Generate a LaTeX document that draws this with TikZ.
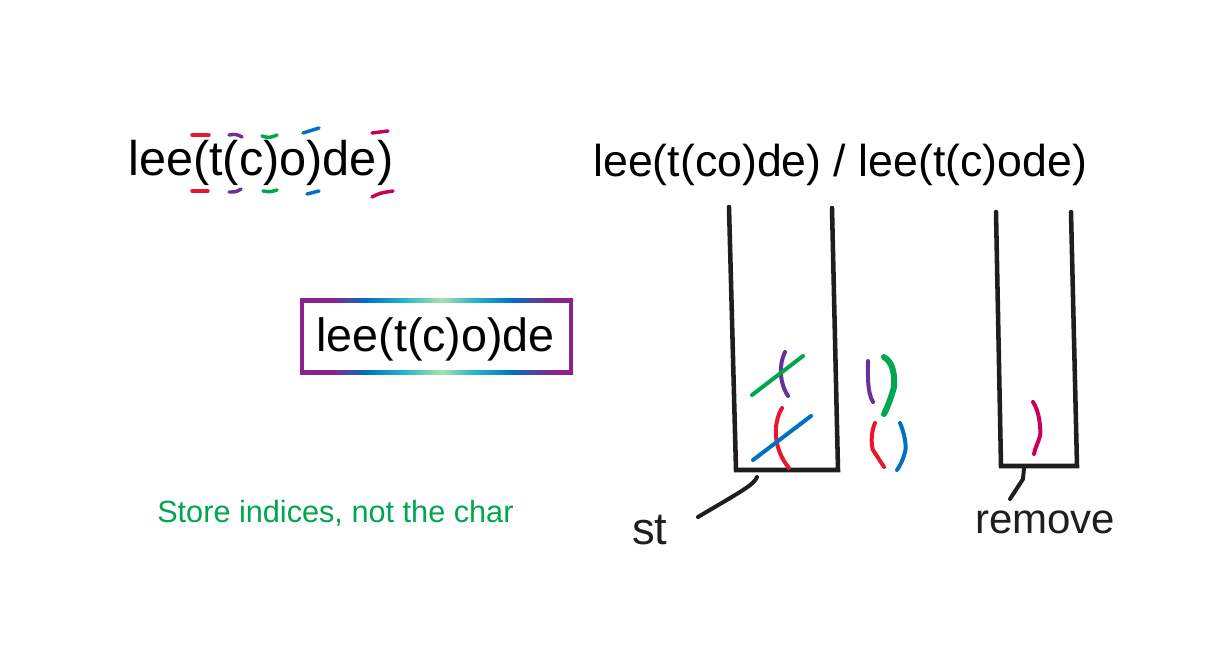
\documentclass[tikz,border=0pt]{standalone}
\usepackage{fontspec}
\setmainfont{Liberation Sans}
\definecolor{cred}{RGB}{232,22,48}
\definecolor{cpur}{RGB}{104,48,152}
\definecolor{cgrn}{RGB}{0,166,80}
\definecolor{cblu}{RGB}{0,112,196}
\definecolor{cmag}{RGB}{200,0,90}
\definecolor{cink}{RGB}{30,30,30}
\definecolor{cbox}{RGB}{140,35,140}
\definecolor{ccya}{RGB}{40,180,200}
\definecolor{clgr}{RGB}{170,225,170}
\definecolor{ctxt}{RGB}{0,166,80}
\pgfdeclarehorizontalshading{rainbow}{100bp}{color(0bp)=(cbox); color(25bp)=(cbox); color(31bp)=(cbox); color(37bp)=(cblu); color(44bp)=(ccya); color(51bp)=(clgr); color(57bp)=(ccya); color(64bp)=(cblu); color(71bp)=(cbox); color(100bp)=(cbox)}
\tikzset{
  txt/.style={inner sep=0pt, anchor=base west, text=black},
  dashmark/.style={line width=2.6pt, line cap=round},
  pen/.style={line width=3pt, line cap=round, line join=round},
  wall/.style={line width=3.4pt, draw=cink, line cap=round, line join=miter},
  hand/.style={line width=3pt, draw=cink, line cap=round, line join=round},
}
\begin{document}
\begin{tikzpicture}[x=0.75pt,y=-0.75pt]
\useasboundingbox[fill=white] (0,0) rectangle (1218,650);

% left string with marks
\node[txt, font=\fontsize{36.5}{40}\selectfont] (str) at (128,175) {lee(t(c)o)de)};
\draw[dashmark, cred] (192,135) -- (209,135);
\draw[dashmark, cred] (192,191) -- (208,191);
\draw[dashmark, cpur] (229,135) .. controls (236,134) .. (242,137);
\draw[dashmark, cpur] (229,192) .. controls (236,192) .. (241,189);
\draw[dashmark, cgrn] (262,136) .. controls (269,138) .. (277,135);
\draw[dashmark, cgrn] (263,191) .. controls (270,192) .. (277,190);
\draw[dashmark, cblu] (303,133) -- (319,128);
\draw[dashmark, cblu] (307,194) -- (319,191);
\draw[dashmark, cmag] (372,133) -- (388,131);
\draw[dashmark, cmag] (372,197) .. controls (380,193) .. (393,191);

% rainbow box
\shade[shading=rainbow] (300,298) rectangle (573,302);
\shade[shading=rainbow] (300,370) rectangle (573,374);
\fill[cbox] (300,298) rectangle (304,374);
\fill[cbox] (569,298) rectangle (573,374);
\node[txt, font=\fontsize{35}{40}\selectfont] (box) at (316,351) {lee(t(c)o)de};

% green note
\node[txt, font=\fontsize{23}{28}\selectfont, text=ctxt] (note) at (157,522) {Store indices, not the char};

% title
\node[txt, font=\fontsize{33.5}{38}\selectfont] (title) at (593,176) {lee(t(co)de) / lee(t(c)ode)};

% stack 1
\draw[wall] (729,207) -- (736,470) -- (838,470) -- (832,208);
\coordinate (s1) at (757,477);
\draw[pen, cpur] (785,352) .. controls (779,364) and (779,382) .. (788,396);
\draw[pen, cgrn] (752,395) -- (803,356);
\draw[pen, cred] (782,408) .. controls (772,425) and (774,450) .. (789,468);
\draw[pen, cblu] (753,460) -- (811,416);
% loose brackets
\draw[pen, cpur] (868,361) .. controls (868,375) and (867,392) .. (873,402);
\draw[line width=4.5pt, cgrn, line cap=round, line join=round] (884,357) .. controls (892,362) and (895,372) .. (894,387) .. controls (891,398) and (888,406) .. (884,414);
\draw[pen, cred] (875,423) .. controls (871,432) and (871,444) .. (873,450) -- (884,467);
\draw[pen, cblu] (900,423) .. controls (904,432) and (907,446) .. (905,452) .. controls (903,460) and (900,466) .. (897,470);

% st label
\node[txt, font=\fontsize{34}{38}\selectfont, text=cink] (st) at (632,544) {st};
\coordinate (stp) at (698,517);
\draw[hand] (s1) .. controls (754,485) and (740,492) .. (stp);

% stack 2
\draw[wall] (996,212) -- (1001,466) -- (1077,466) -- (1071,212);
\coordinate (s2) at (1024,468);
\draw[pen, cmag] (1033,402) .. controls (1040,412) and (1041,432) .. (1040,436) .. controls (1038,443) and (1035,448) .. (1034,454);
\node[txt, font=\fontsize{31.5}{36}\selectfont, text=cink] (rm) at (975,533) {remove};
\coordinate (rmp) at (1010,499);
\draw[hand] (s2) -- (1023,479) -- (rmp);
\end{tikzpicture}
\end{document}
